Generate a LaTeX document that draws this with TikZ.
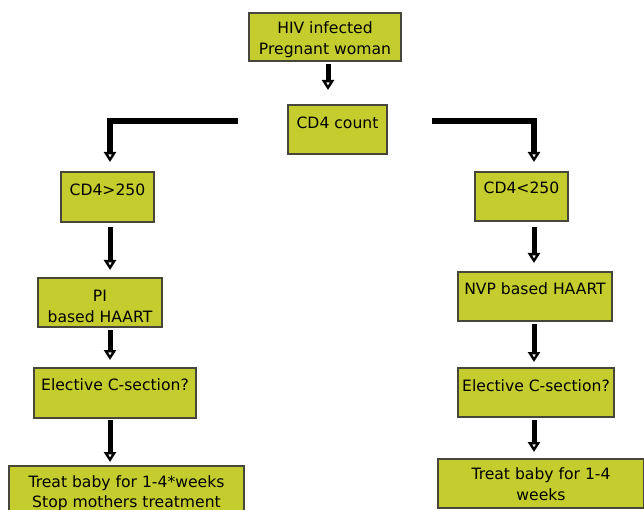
\documentclass[tikz,border=0pt]{standalone}
\usepackage{fontspec}
\setmainfont{DejaVu Sans}
\usetikzlibrary{arrows.meta}
\definecolor{boxfill}{RGB}{197,204,46}
\definecolor{boxline}{RGB}{70,70,60}
\newcommand\tb[4]{\parbox[c][#2pt][t]{#1pt}{\centering\rule{0pt}{#3pt}#4}}
\begin{document}
\begin{tikzpicture}[x=1pt,y=-1pt,
  box/.style={draw=boxline, fill=boxfill, line width=2pt, inner sep=0pt, anchor=north west,
    font=\fontsize{15.6}{21}\selectfont},
  arr/.style={line width=5pt, line join=miter,
    -{Triangle[width=12pt 0 0,length=10pt 0 0,fill=white,line width=2.4pt]}},
  elbow/.style={arr, line width=6pt}]
\useasboundingbox (0,0) rectangle (644,510);
\fill[white] (0,0) rectangle (644,510);
\node[box] (top) at (248,12) {\tb{152}{48}{21}{HIV infected\\Pregnant woman}};
\node[box] (cd4) at (287,104) {\tb{99}{49}{24}{CD4 count}};
\node[box] (l1) at (60,171) {\tb{93}{50}{24}{CD4>250}};
\node[box] (l2) at (37,277) {\tb{124}{49}{23}{PI\\based HAART}};
\node[box] (l3) at (33,367) {\tb{162}{50}{22}{Elective C-section?}};
\node[box] (l4) at (8,465) {\tb{235}{46}{21}{Treat baby for 1-4*weeks\\[-1pt]Stop mothers treatment}};
\node[box] (r1) at (474,171) {\tb{93}{49}{22}{CD4<250}};
\node[box] (r2) at (457,271) {\tb{154}{49}{22}{NVP based HAART}};
\node[box] (r3) at (457,367) {\tb{156}{49}{23}{Elective C-section?}};
\node[box] (r4) at (437,458) {\tb{206}{49}{20}{Treat baby for 1-4\\weeks}};
\coordinate (mx) at (328,0);
\coordinate (lx) at (110,0);
\coordinate (rx) at (534,0);
\coordinate (lstart) at (238,121);
\coordinate (rstart) at (432,121);
\draw[arr, shorten <=2pt, shorten >=14pt] (top.south -| mx) -- (cd4.north -| mx);
\draw[elbow, shorten >=9pt] (lstart) -| (l1.north -| lx);
\draw[elbow, shorten >=9pt] (rstart) -| (r1.north -| rx);
\draw[arr, shorten <=4pt, shorten >=7pt] (l1.south -| lx) -- (l2.north -| lx);
\draw[arr, shorten <=2pt, shorten >=7pt] (l2.south -| lx) -- (l3.north -| lx);
\draw[arr, shorten <=1pt, shorten >=3pt] (l3.south -| lx) -- (l4.north -| lx);
\draw[arr, shorten <=5pt, shorten >=8pt] (r1.south -| rx) -- (r2.north -| rx);
\draw[arr, shorten <=2pt, shorten >=5pt] (r2.south -| rx) -- (r3.north -| rx);
\draw[arr, shorten <=2pt, shorten >=6pt] (r3.south -| rx) -- (r4.north -| rx);
\end{tikzpicture}
\end{document}
